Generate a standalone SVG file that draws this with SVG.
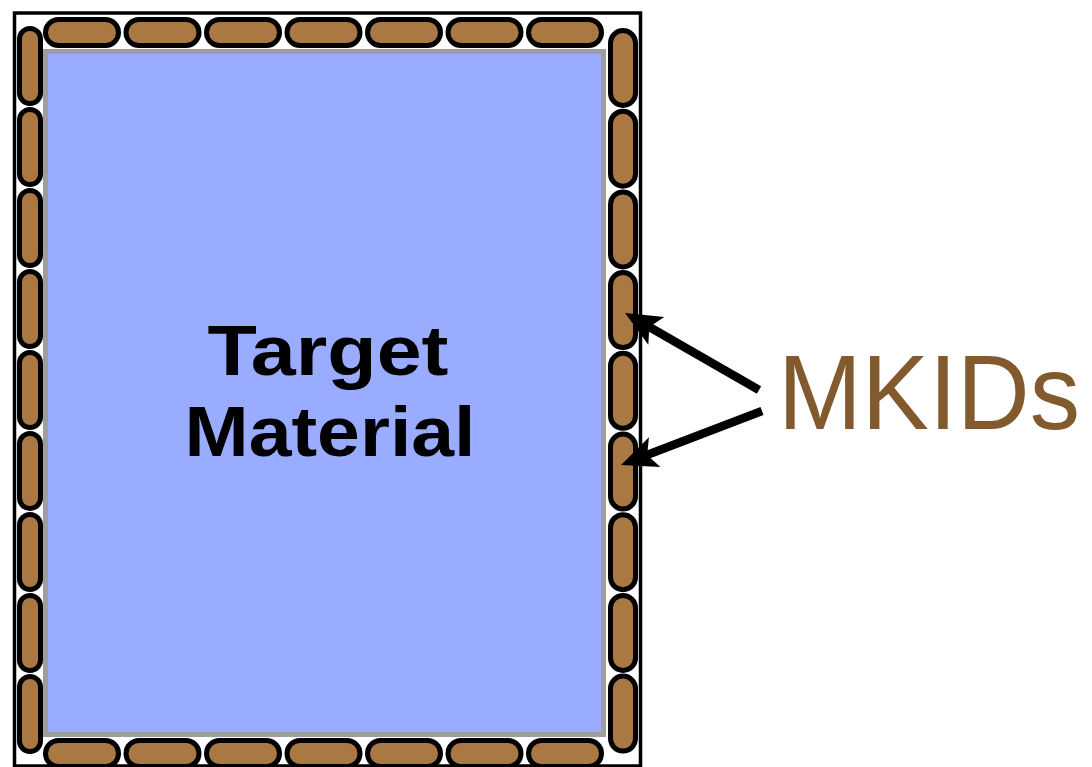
<svg xmlns="http://www.w3.org/2000/svg" width="1092" height="767" viewBox="0 0 1092 767">
<style>
.pill{fill:#A97843;stroke:#000;stroke-width:5}
.lbl{font-family:"Liberation Sans",Arial,sans-serif;font-weight:bold;fill:#000;text-anchor:middle}
.mk{font-family:"Liberation Sans",Arial,sans-serif;fill:#835A2D}
.conn{stroke:#000;stroke-width:8.5;fill:none}
</style>
<defs>
<marker id="ah" markerUnits="userSpaceOnUse" viewBox="-20 -20 44 40" refX="0" refY="0" markerWidth="44" markerHeight="40" orient="auto" overflow="visible">
<path d="M20,0 L-16,-16 L-8,0 L-16,16 Z" fill="#000"/>
</marker>
</defs>
<rect width="1092" height="767" fill="#fff"/>
<g id="frame">
<rect x="14.5" y="13" width="626" height="753" fill="#fff" stroke="#000" stroke-width="3.5"/>
</g>
<g id="target">
<rect x="45.5" y="51.5" width="558" height="683" fill="#9AACFF" stroke="#9E9E9E" stroke-width="5"/>
<text class="lbl" x="328" y="375" font-size="70" textLength="241" lengthAdjust="spacingAndGlyphs">Target</text>
<text class="lbl" x="330" y="456" font-size="70" textLength="291" lengthAdjust="spacingAndGlyphs">Material</text>
</g>
<g id="mkids-top">
<rect class="pill" x="45.5" y="19.5" width="73" height="26" rx="13"/>
<rect class="pill" x="126" y="19.5" width="73" height="26" rx="13"/>
<rect class="pill" x="206.5" y="19.5" width="73" height="26" rx="13"/>
<rect class="pill" x="287" y="19.5" width="73" height="26" rx="13"/>
<rect class="pill" x="367.5" y="19.5" width="73" height="26" rx="13"/>
<rect class="pill" x="448" y="19.5" width="73" height="26" rx="13"/>
<rect class="pill" x="528.5" y="19.5" width="73" height="26" rx="13"/>
</g>
<g id="mkids-bottom">
<rect class="pill" x="45.5" y="740.5" width="73" height="26" rx="13"/>
<rect class="pill" x="126" y="740.5" width="73" height="26" rx="13"/>
<rect class="pill" x="206.5" y="740.5" width="73" height="26" rx="13"/>
<rect class="pill" x="287" y="740.5" width="73" height="26" rx="13"/>
<rect class="pill" x="367.5" y="740.5" width="73" height="26" rx="13"/>
<rect class="pill" x="448" y="740.5" width="73" height="26" rx="13"/>
<rect class="pill" x="528.5" y="740.5" width="73" height="26" rx="13"/>
</g>
<g id="mkids-left">
<rect class="pill" x="19.5" y="28.5" width="21" height="75" rx="10.5"/>
<rect class="pill" x="19.5" y="109.5" width="21" height="75" rx="10.5"/>
<rect class="pill" x="19.5" y="190.5" width="21" height="75" rx="10.5"/>
<rect class="pill" x="19.5" y="271.5" width="21" height="75" rx="10.5"/>
<rect class="pill" x="19.5" y="352.5" width="21" height="75" rx="10.5"/>
<rect class="pill" x="19.5" y="433.5" width="21" height="75" rx="10.5"/>
<rect class="pill" x="19.5" y="514.5" width="21" height="75" rx="10.5"/>
<rect class="pill" x="19.5" y="595.5" width="21" height="75" rx="10.5"/>
<rect class="pill" x="19.5" y="676.5" width="21" height="75" rx="10.5"/>
</g>
<g id="mkids-right">
<rect class="pill" x="610.5" y="30.5" width="25" height="75" rx="12.5"/>
<rect class="pill" x="610.5" y="111.2" width="25" height="75" rx="12.5"/>
<rect class="pill" x="610.5" y="191.9" width="25" height="75" rx="12.5"/>
<rect class="pill" x="610.5" y="272.6" width="25" height="75" rx="12.5"/>
<rect class="pill" x="610.5" y="353.3" width="25" height="75" rx="12.5"/>
<rect class="pill" x="610.5" y="434" width="25" height="75" rx="12.5"/>
<rect class="pill" x="610.5" y="514.7" width="25" height="75" rx="12.5"/>
<rect class="pill" x="610.5" y="595.4" width="25" height="75" rx="12.5"/>
<rect class="pill" x="610.5" y="676.1" width="25" height="75" rx="12.5"/>
</g>
<g id="mkids-label">
<text class="mk" x="778" y="429" font-size="106" textLength="302" lengthAdjust="spacingAndGlyphs">MKIDs</text>
</g>
<g id="connectors">
<line class="conn" x1="759" y1="390" x2="642.4" y2="323" marker-end="url(#ah)"/>
<line class="conn" x1="762" y1="411" x2="639.7" y2="457.8" marker-end="url(#ah)"/>
</g>
</svg>
